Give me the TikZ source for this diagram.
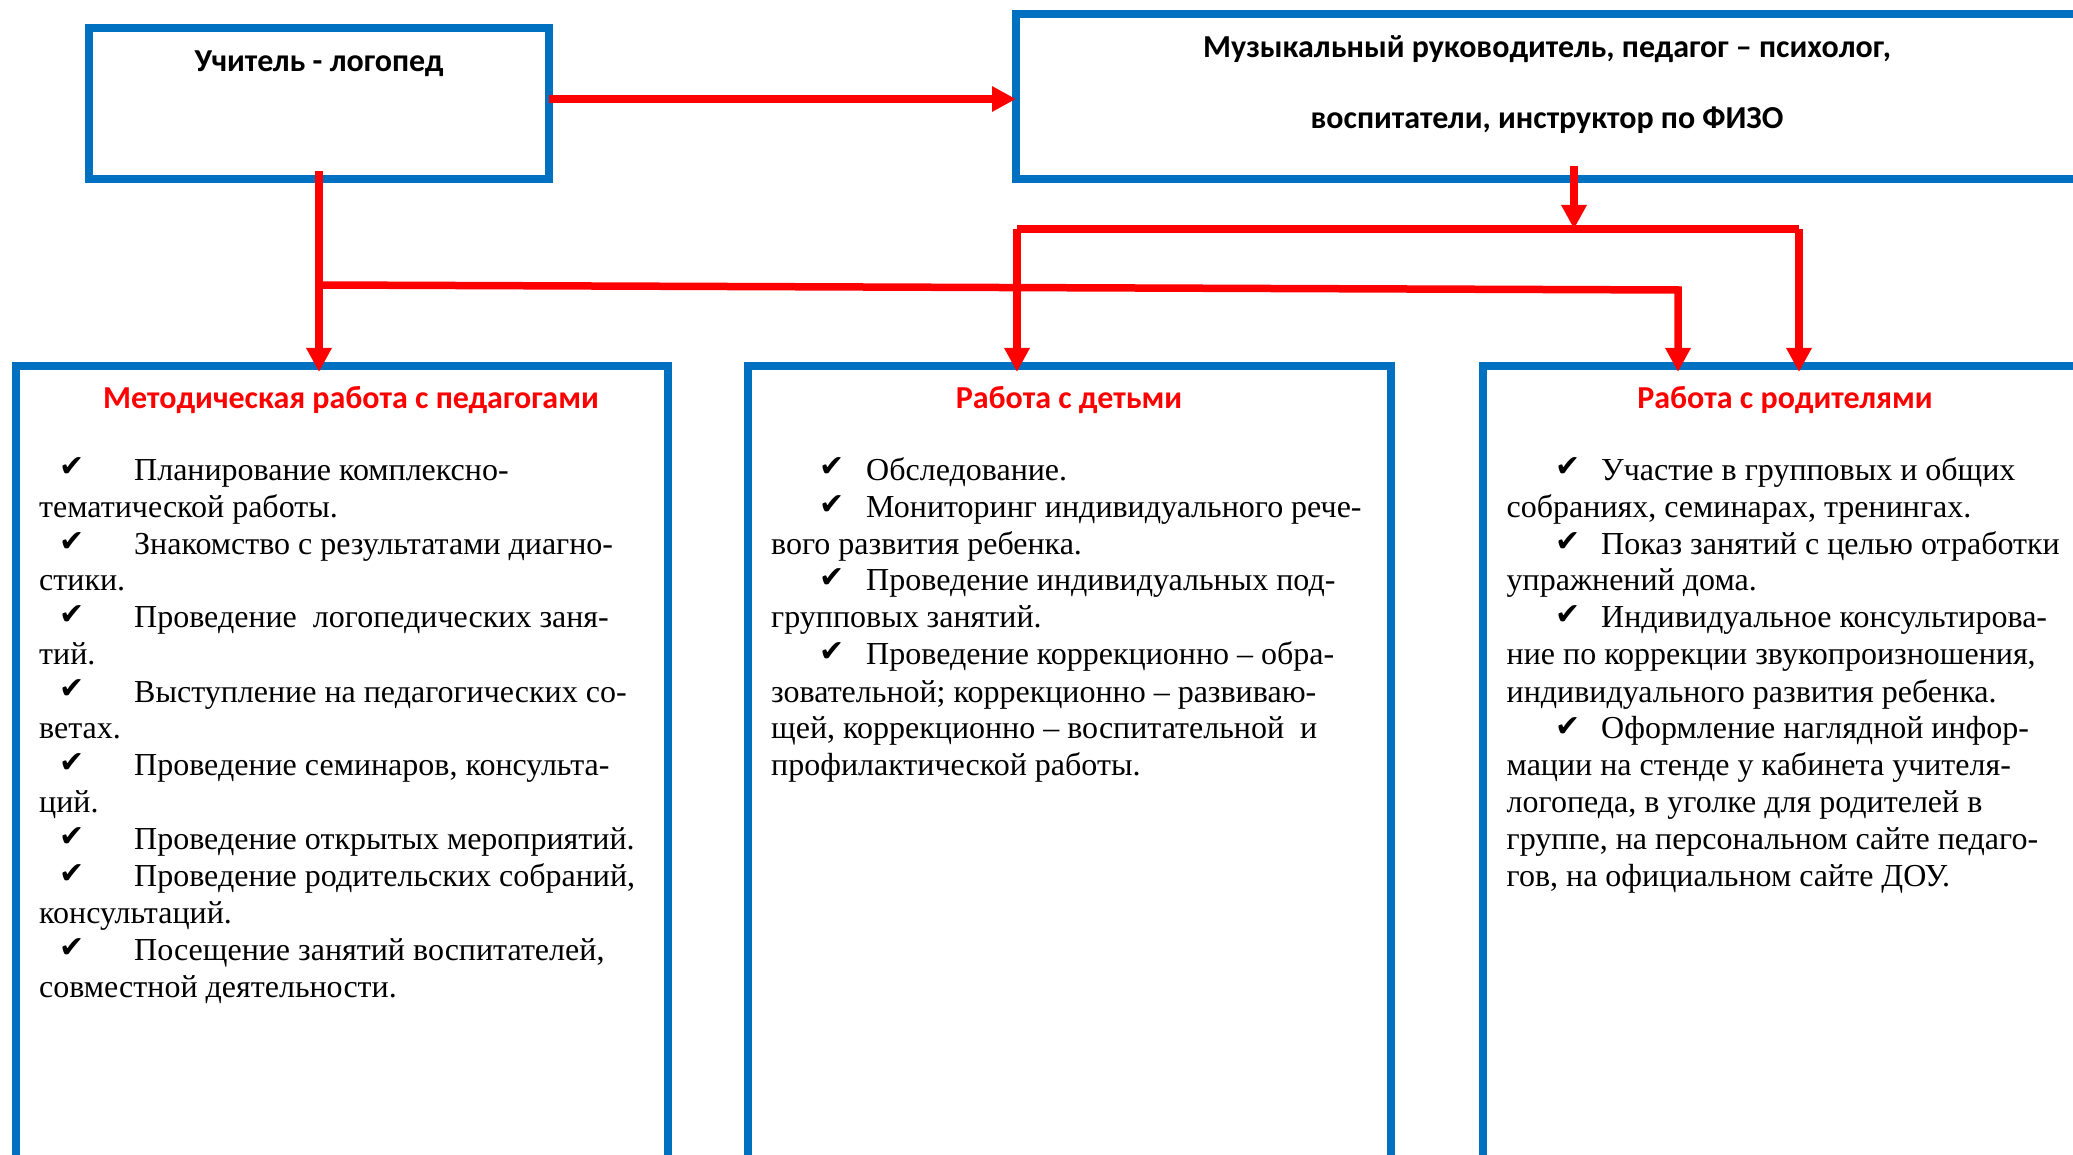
\documentclass[tikz,border=0pt]{standalone}
\usepackage{fontspec}
\setmainfont{Liberation Serif}
\newfontfamily\calb{Carlito}
\newfontfamily\chkfont{DejaVu Sans}
\usetikzlibrary{arrows.meta,calc}
\definecolor{boxblue}{RGB}{0,112,192}
\definecolor{linered}{RGB}{255,0,0}
\newcommand{\chk}{{\chkfont\fontsize{30}{30}\selectfont\raisebox{3pt}{✔}}}
\newcommand{\mitem}[2]{\makebox[#1][l]{\hspace*{#2}\chk}}
\newcommand{\bodytext}[1]{\parbox[t]{720pt}{\fontsize{32}{37}\selectfont\raggedright #1}}
\tikzset{
  box/.style={draw=boxblue, line width=7.5pt, rectangle, inner sep=0pt, outer sep=0pt},
  conn/.style={draw=linered, line width=7.5pt},
  arr/.style={conn, -{Triangle[length=24pt,width=24pt]}},
  toptext/.style={font=\calb\bfseries\fontsize{32}{36}\selectfont, anchor=base, inner sep=0pt},
  titletext/.style={font=\calb\bfseries\fontsize{32}{36}\selectfont, text=linered, anchor=base, inner sep=0pt},
  body/.style={anchor=base west, inner sep=0pt},
}
\begin{document}
\begin{tikzpicture}[x=1pt,y=-1pt]
\useasboundingbox (0,0) rectangle (2073,1155);
\clip (0,0) rectangle (2073,1155);
% boxes
\node[box, minimum width=460pt, minimum height=151pt] (b1) at (319,103.5) {};
\node[box, minimum width=1064pt, minimum height=165pt] (b2) at (1548,96.5) {};
\node[box, minimum width=652pt, minimum height=792.5pt] (bL) at (342,762.25) {};
\node[box, minimum width=643pt, minimum height=792.5pt] (bM) at (1069.5,762.25) {};
\node[box, minimum width=607pt, minimum height=792.5pt] (bR) at (1786.5,762.25) {};
% top texts
\node[toptext] (t1) at (319,72) {Учитель - логопед};
\node[toptext] (t2a) at (1547,58) {Музыкальный руководитель, педагог – психолог,};
\node[toptext] (t2b) at (1547,129) {воспитатели, инструктор по ФИЗО};
% titles
\node[titletext] (hL) at (351,409) {Методическая работа с педагогами};
\node[titletext] (hM) at (1069,409) {Работа с детьми};
\node[titletext] (hR) at (1785,409) {Работа с родителями};
% bodies
\node[body] (xL) at (39,480) {\bodytext{%
\mitem{95pt}{20pt}Планирование комплексно-\\
тематической работы.\\
\mitem{95pt}{20pt}Знакомство с результатами диагно-\\
стики.\\
\mitem{95pt}{20pt}Проведение\ \ логопедических заня-\\
тий.\\
\mitem{95pt}{20pt}Выступление на педагогических со-\\
ветах.\\
\mitem{95pt}{20pt}Проведение семинаров, консульта-\\
ций.\\
\mitem{95pt}{20pt}Проведение открытых мероприятий.\\
\mitem{95pt}{20pt}Проведение родительских собраний,\\
консультаций.\\
\mitem{95pt}{20pt}Посещение занятий воспитателей,\\
совместной деятельности.}};
\node[body] (xM) at (771,480) {\bodytext{%
\mitem{95pt}{48pt}Обследование.\\
\mitem{95pt}{48pt}Мониторинг индивидуального рече-\\
вого развития ребенка.\\
\mitem{95pt}{48pt}Проведение индивидуальных под-\\
групповых занятий.\\
\mitem{95pt}{48pt}Проведение коррекционно – обра-\\
зовательной; коррекционно – развиваю-\\
щей, коррекционно – воспитательной \ и\\
профилактической работы.}};
\node[body] (xR) at (1506.5,480) {\bodytext{%
\mitem{94.5pt}{48.5pt}Участие в групповых и общих\\
собраниях, семинарах, тренингах.\\
\mitem{94.5pt}{48.5pt}Показ занятий с целью отработки\\
упражнений дома.\\
\mitem{94.5pt}{48.5pt}Индивидуальное консультирова-\\
ние по коррекции звукопроизношения,\\
индивидуального развития ребенка.\\
\mitem{94.5pt}{48.5pt}Оформление наглядной инфор-\\
мации на стенде у кабинета учителя-\\
логопеда, в уголке для родителей в\\
группе, на персональном сайте педаго-\\
гов, на официальном сайте ДОУ.}};
% junctions
\coordinate (j1) at (319,285);
\coordinate (j2) at (1678,290);
\coordinate (j3) at (1574,229);
\coordinate (j4) at (1017,229);
\coordinate (j5) at (1799,229);
% connectors
\draw[arr] (b1.east |- 0,99) -- (b2.west |- 0,99);
\draw[arr] ($(b1.south)+(0,-8)$) -- ($(j1 |- bL.north)+(0,6)$);
\draw[arr] (j1) -- (j2) -- ($(j2 |- bR.north)+(0,6)$);
\draw[arr] ($(j3 |- b2.south)+(0,-13)$) -- (j3);
\draw[conn] (j4) -- (j5);
\draw[arr] (j4) -- ($(j4 |- bM.north)+(0,6)$);
\draw[arr] (j5) -- ($(j5 |- bR.north)+(0,6)$);
\end{tikzpicture}
\end{document}
